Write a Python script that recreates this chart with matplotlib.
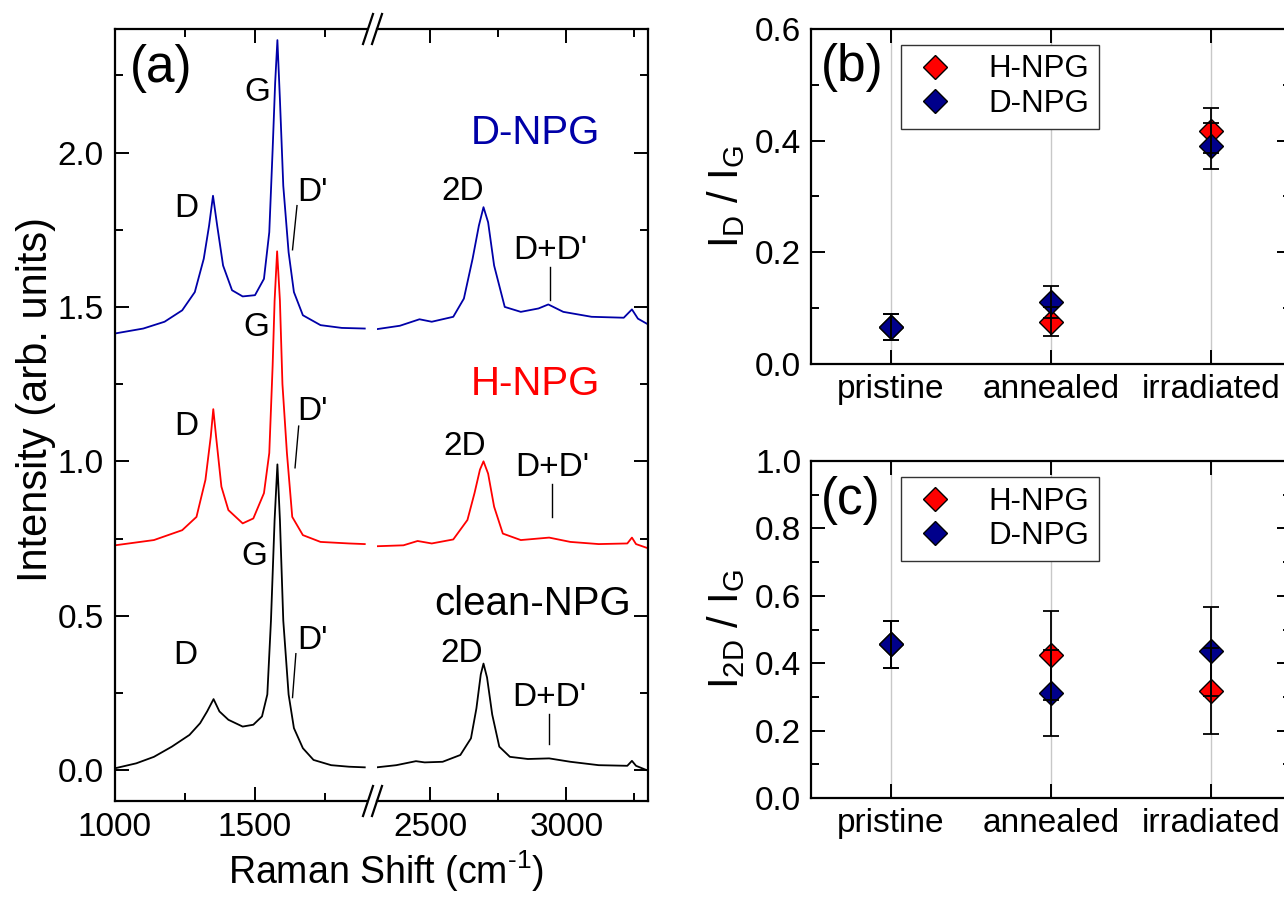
import matplotlib.pyplot as plt
from matplotlib.lines import Line2D
from matplotlib.ticker import MultipleLocator, FormatStrFormatter

plt.rcParams['font.family'] = ['Liberation Sans', 'DejaVu Sans']
plt.rcParams['mathtext.fontset'] = 'custom'
plt.rcParams['mathtext.rm'] = 'Liberation Sans'
plt.rcParams['mathtext.default'] = 'regular'

# ---- (a) Raman spectra (low / high shift segments) ----
clean_lo_x = [1000, 1076, 1139, 1203, 1266, 1304, 1329, 1352, 1373, 1405, 1456, 1494, 1525, 1544,
              1557, 1570, 1580, 1589, 1601, 1620, 1639, 1671, 1709, 1772, 1836, 1892]
clean_lo_y = [0.006, 0.022, 0.043, 0.076, 0.114, 0.152, 0.19, 0.23, 0.19, 0.163, 0.141, 0.147, 0.174, 0.245,
              0.484, 0.81, 0.99, 0.81, 0.484, 0.245, 0.136, 0.071, 0.033, 0.016, 0.011, 0.009]
clean_hi_x = [2304, 2376, 2448, 2480, 2546, 2611, 2650, 2670, 2686, 2696, 2709, 2728, 2754, 2793,
              2859, 2937, 3015, 3119, 3224, 3241, 3256, 3295]
clean_hi_y = [0.009, 0.016, 0.029, 0.025, 0.027, 0.049, 0.103, 0.2, 0.31, 0.345, 0.3, 0.18, 0.076, 0.043,
              0.036, 0.038, 0.027, 0.016, 0.014, 0.03, 0.014, 0.0]

h_lo_x = [1000, 1139, 1240, 1291, 1323, 1342, 1351, 1361, 1380, 1405, 1456, 1494, 1532, 1551,
          1563, 1570, 1579, 1589, 1598, 1614, 1633, 1671, 1734, 1836, 1892]
h_lo_y = [0.728, 0.745, 0.777, 0.82, 0.94, 1.08, 1.169, 1.08, 0.918, 0.842, 0.799, 0.815, 0.897, 1.027,
          1.31, 1.52, 1.68, 1.52, 1.25, 1.027, 0.82, 0.761, 0.739, 0.734, 0.732]
h_hi_x = [2304, 2402, 2454, 2506, 2585, 2637, 2663, 2683, 2696, 2713, 2735, 2767, 2833, 2937,
          3015, 3119, 3224, 3241, 3256, 3295]
h_hi_y = [0.725, 0.728, 0.742, 0.734, 0.747, 0.81, 0.897, 0.973, 1.0, 0.96, 0.853, 0.766, 0.745, 0.753,
          0.739, 0.732, 0.734, 0.753, 0.732, 0.72]

d_lo_x = [1000, 1101, 1177, 1240, 1285, 1317, 1336, 1350, 1365, 1386, 1418, 1456, 1500, 1532,
          1551, 1563, 1572, 1580, 1589, 1601, 1620, 1639, 1671, 1734, 1810, 1892]
d_lo_y = [1.414, 1.43, 1.452, 1.489, 1.548, 1.656, 1.763, 1.86, 1.763, 1.634, 1.554, 1.534, 1.538, 1.591,
          1.742, 2.01, 2.226, 2.364, 2.172, 1.892, 1.677, 1.548, 1.473, 1.441, 1.432, 1.43]
d_hi_x = [2304, 2389, 2461, 2506, 2585, 2624, 2656, 2679, 2696, 2713, 2735, 2774, 2833, 2898,
          2934, 2989, 3093, 3211, 3241, 3263, 3295]
d_hi_y = [1.428, 1.439, 1.46, 1.452, 1.468, 1.527, 1.656, 1.763, 1.823, 1.774, 1.634, 1.5, 1.484, 1.495,
          1.508, 1.484, 1.468, 1.465, 1.492, 1.462, 1.446]

# ---- (b), (c) intensity ratios ----
stages = ['pristine', 'annealed', 'irradiated']
idig_h = [0.066, 0.076, 0.418]
idig_h_err = [0.023, 0.026, 0.040]
idig_d = [0.066, 0.111, 0.390]
idig_d_err = [0.023, 0.028, 0.041]
i2dig_h = [0.456, 0.423, 0.318]
i2dig_h_err = [0.069, 0.131, 0.127]
i2dig_d = [0.456, 0.312, 0.435]
i2dig_d_err = [0.069, 0.128, 0.132]

RED = '#ff0000'
BLUE = '#0000a8'
NAVY = '#00008b'
TICK_FS = 24

W, H = 1284, 899
fig = plt.figure(figsize=(W / 100, H / 100), dpi=100)


def frac(x0, y0, x1, y1):
    # pixel box (top-left origin) -> figure fraction rect
    return [x0 / W, 1 - y1 / H, (x1 - x0) / W, (y1 - y0) / H]


ax_lo = fig.add_axes(frac(115, 29, 367, 801))
ax_hi = fig.add_axes(frac(377, 29, 648, 801))

for ax in (ax_lo, ax_hi):
    ax.set_ylim(-0.1, 2.4)
    for s in ax.spines.values():
        s.set_linewidth(1.6)
    ax.tick_params(which='both', direction='in', width=1.4, labelsize=TICK_FS, pad=8)
    ax.tick_params(which='major', length=10)
    ax.tick_params(which='minor', length=6)
    ax.yaxis.set_major_locator(MultipleLocator(0.5))
    ax.yaxis.set_minor_locator(MultipleLocator(0.25))
    ax.xaxis.set_major_locator(MultipleLocator(500))
    ax.xaxis.set_minor_locator(MultipleLocator(250))

ax_lo.set_xlim(1000, 1900)
ax_hi.set_xlim(2305, 3300)
ax_lo.spines['right'].set_visible(False)
ax_hi.spines['left'].set_visible(False)
ax_lo.tick_params(which='both', top=True, right=False)
ax_hi.tick_params(which='both', top=True, left=False, labelleft=False, right=True)
ax_lo.yaxis.set_major_formatter(FormatStrFormatter('%.1f'))

ax_lo.plot(clean_lo_x, clean_lo_y, color='black', lw=1.3)
ax_lo.plot(h_lo_x, h_lo_y, color=RED, lw=1.3)
ax_lo.plot(d_lo_x, d_lo_y, color=BLUE, lw=1.3)
ax_hi.plot(clean_hi_x, clean_hi_y, color='black', lw=1.3)
ax_hi.plot(h_hi_x, h_hi_y, color=RED, lw=1.3)
ax_hi.plot(d_hi_x, d_hi_y, color=BLUE, lw=1.3)

# peak labels
fs_pk = 24
for (x, y, s) in [(1507, 2.195, 'G'), (1254, 1.818, 'D'), (1707, 1.87, "D'"),
                  (1504, 1.432, 'G'), (1254, 1.114, 'D'), (1704, 1.162, "D'"),
                  (1496, 0.692, 'G'), (1250, 0.37, 'D'), (1707, 0.419, "D'")]:
    ax_lo.text(x, y, s, fontsize=fs_pk, ha='center', va='center')
for (xa, ya, xb, yb) in [(1650, 1.828, 1634, 1.685), (1656, 1.114, 1643, 0.979), (1646, 0.377, 1634, 0.235)]:
    ax_lo.plot([xa, xb], [ya, yb], color='black', lw=1)
for (x, y, s) in [(2620, 1.873, '2D'), (2942, 1.682, "D+D'"),
                  (2628, 1.049, '2D'), (2947, 0.979, "D+D'"),
                  (2617, 0.377, '2D'), (2938, 0.235, "D+D'")]:
    ax_hi.text(x, y, s, fontsize=fs_pk, ha='center', va='center')
for (x, ya, yb) in [(2942, 1.63, 1.523), (2947, 0.925, 0.821), (2938, 0.182, 0.084)]:
    ax_hi.plot([x, x], [ya, yb], color='black', lw=1)

ax_hi.text(2887, 2.062, 'D-NPG', color=BLUE, fontsize=29, ha='center', va='center')
ax_hi.text(2887, 1.25, 'H-NPG', color=RED, fontsize=29, ha='center', va='center')
ax_hi.text(2876, 0.539, 'clean-NPG', color='black', fontsize=29, ha='center', va='center')
ax_lo.text(0.06, 0.949, '(a)', transform=ax_lo.transAxes, fontsize=37, ha='left', va='center')

ax_lo.set_ylabel('Intensity (arb. units)', fontsize=30)
ax_lo.yaxis.set_label_coords(-0.235, 0.52)
fig.text(386 / W, 1 - 848 / H, r'Raman Shift (cm$^{\text{-}1}$)', fontsize=27, ha='center', va='top')

# axis break marks
for yb in (29, 801):
    for xb in (368, 377):
        fig.add_artist(Line2D([(xb - 5) / W, (xb + 5) / W], [1 - (yb + 15) / H, 1 - (yb - 15) / H],
                              transform=fig.transFigure, color='black', lw=1.6))

# ---- (b) and (c) ----
ax_b = fig.add_axes(frac(811, 29, 1291, 364))
ax_c = fig.add_axes(frac(811, 461, 1291, 798))
pos = list(range(len(stages)))

panels = [(ax_b, idig_h, idig_h_err, idig_d, idig_d_err, 0.6, '(b)', r'I$_{D}$ / I$_{G}$'),
          (ax_c, i2dig_h, i2dig_h_err, i2dig_d, i2dig_d_err, 1.0, '(c)', r'I$_{2D}$ / I$_{G}$')]
for ax, hv, he, dv, de, ytop, tag, ylab in panels:
    ax.set_xlim(-0.5, 2.5)
    ax.set_ylim(0, ytop)
    for s in ax.spines.values():
        s.set_linewidth(1.6)
    ax.set_xticks(pos)
    ax.set_xticklabels(stages)
    ax.yaxis.set_major_locator(MultipleLocator(0.2))
    ax.yaxis.set_minor_locator(MultipleLocator(0.1))
    ax.yaxis.set_major_formatter(FormatStrFormatter('%.1f'))
    ax.tick_params(which='both', direction='in', top=True, right=True, width=1.4, labelsize=TICK_FS, pad=7)
    ax.tick_params(which='major', length=10)
    ax.tick_params(which='minor', length=6)
    ax.tick_params(axis='x', which='minor', top=False, bottom=False)
    ax.grid(axis='x', color='#c8c8c8', lw=1)
    ax.set_axisbelow(True)
    ax.plot(pos, hv, ls='none', marker='D', ms=12, mfc=RED, mec='black', mew=1, label='H-NPG', zorder=3)
    ax.plot(pos, dv, ls='none', marker='D', ms=12, mfc=NAVY, mec='black', mew=1, label='D-NPG', zorder=3)
    ax.errorbar(pos, hv, yerr=he, fmt='none', ecolor='black', elinewidth=1.3, capsize=5.5, capthick=1.3, zorder=4)
    ax.errorbar(pos, dv, yerr=de, fmt='none', ecolor='black', elinewidth=1.3, capsize=5.5, capthick=1.3, zorder=4)
    ax.set_ylabel(ylab, fontsize=30, labelpad=6)
    ax.text(0.02, 0.884, tag, transform=ax.transAxes, fontsize=37, ha='left', va='center')
    leg = ax.legend(loc='upper left', bbox_to_anchor=(0.1875, 0.952), borderaxespad=0, fontsize=22.5,
                    fancybox=False, edgecolor='#333333', framealpha=1, handletextpad=0.9,
                    borderpad=0.3, labelspacing=0.15, handlelength=1.6)
    leg.get_frame().set_linewidth(1)

fig.savefig('out.png', dpi=100)
